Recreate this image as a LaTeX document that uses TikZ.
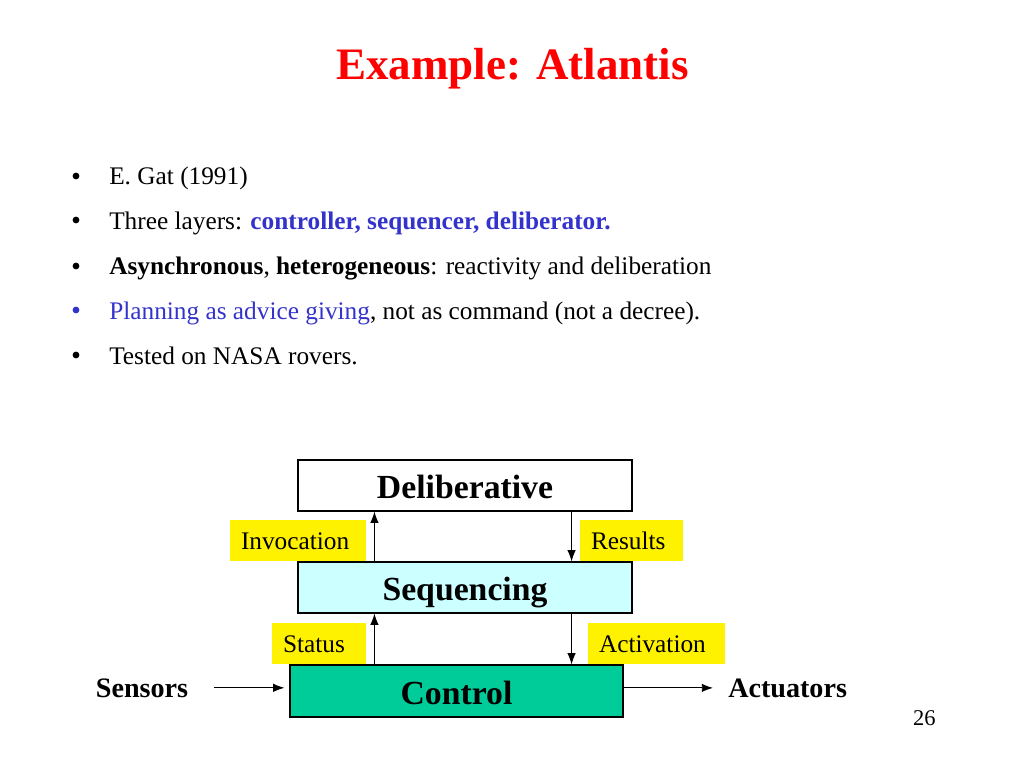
\documentclass[tikz,border=0pt]{standalone}
\usepackage{fontspec}
\setmainfont{Liberation Serif}
\usepackage{tikz}
\usetikzlibrary{shapes, arrows.meta, positioning}
\definecolor{titlered}{RGB}{255,0,0}
\definecolor{linkblue}{RGB}{51,51,204}
\definecolor{seqcyan}{RGB}{204,255,255}
\definecolor{ctrlgreen}{RGB}{0,204,153}
\tikzstyle{layer} = [draw, line width=0.8pt, rectangle, minimum width=8.35cm, minimum height=1.275cm, inner sep=0pt, text height=19pt, text depth=0pt, font=\fontsize{24}{28}\selectfont\bfseries]
\tikzstyle{tag} = [fill=yellow, rectangle, minimum height=1.025cm, inner ysep=0pt, inner xsep=0.275cm, align=left, text height=13.4pt, text depth=0pt, font=\fontsize{18}{22}\selectfont]
\tikzstyle{item} = [anchor=base west, inner sep=0pt, font=\fontsize{18}{22}\selectfont]
\tikzstyle{dot} = [circle, fill, inner sep=0pt, minimum size=0.17cm]
\tikzstyle{io} = [inner sep=0pt, font=\fontsize{20}{24}\selectfont\bfseries]
\tikzstyle{flow} = [-{Latex[length=8pt,width=6pt]}, line width=0.7pt]
\newcommand{\hl}[1]{\textcolor{linkblue}{#1}}

\begin{document}
\begin{tikzpicture}
  \useasboundingbox (0,0) rectangle (25.6,-19.2);
  \node[anchor=base, text=titlered, font=\fontsize{32}{38}\selectfont\bfseries] (title) at (12.8125,-2.0) {Example: Atlantis};

  % bullet list
  \node[dot] (d1) at (1.9,-4.4) {};
  \node[item] (l1) at (2.725,-4.625) {E. Gat (1991)};
  \node[dot] (d2) at (1.9,-5.5) {};
  \node[item] (l2) at (2.725,-5.725) {Three layers: \textbf{\hl{controller, sequencer, deliberator.}}};
  \node[dot] (d3) at (1.9,-6.65) {};
  \node[item] (l3) at (2.725,-6.875) {\textbf{Asynchronous}, \textbf{heterogeneous}: reactivity and deliberation};
  \node[dot, fill=linkblue] (d4) at (1.9,-7.75) {};
  \node[item] (l4) at (2.725,-7.975) {\hl{Planning as advice giving}, not as command (not a decree).};
  \node[dot] (d5) at (1.9,-8.875) {};
  \node[item] (l5) at (2.725,-9.1) {Tested on NASA rovers.};

  % layers
  \node[layer, fill=white] (deliberative) at (11.625,-12.1375) {Deliberative};
  \node[layer, fill=seqcyan, below of=deliberative, node distance=2.55cm] (sequencing) {Sequencing};
  \node[layer, fill=ctrlgreen, minimum width=8.325cm, minimum height=1.3cm, below of=sequencing, node distance=2.5875cm, xshift=-0.2125cm] (control) {Control};

  \node[tag, text width=2.85cm] (invocation) at (7.45,-13.5125) {Invocation};
  \node[tag, text width=2.025cm] (results) at (15.7875,-13.5125) {Results};
  \node[tag, text width=1.8cm] (status) at (7.975,-16.0875) {Status};
  \node[tag, text width=2.875cm] (activation) at (16.4125,-16.0875) {Activation};

  \coordinate (up) at ([xshift=1.925cm]deliberative.south west);
  \coordinate (down) at ([xshift=-1.525cm]deliberative.south east);
  \draw[flow] (up |- sequencing.north) -- (up);
  \draw[flow] (down) -- (down |- sequencing.north);
  \draw[flow] (up |- control.north) -- (up |- sequencing.south);
  \draw[flow] (down |- sequencing.south) -- (down |- control.north);

  \node[io, anchor=base] (sensors) at (3.55,-17.425) {Sensors};
  \node[io, anchor=base west] (actuators) at (18.2,-17.425) {Actuators};
  \draw[flow, shorten <=0.65cm, shorten >=0.125cm] (sensors) -- (sensors -| control.west);
  \draw[flow, shorten >=0.375cm] (actuators -| control.east) -- (actuators);

  \node[anchor=base east, inner sep=0pt, font=\fontsize{16}{19}\selectfont] (page) at (23.4,-18.125) {26};
\end{tikzpicture}
\end{document}
